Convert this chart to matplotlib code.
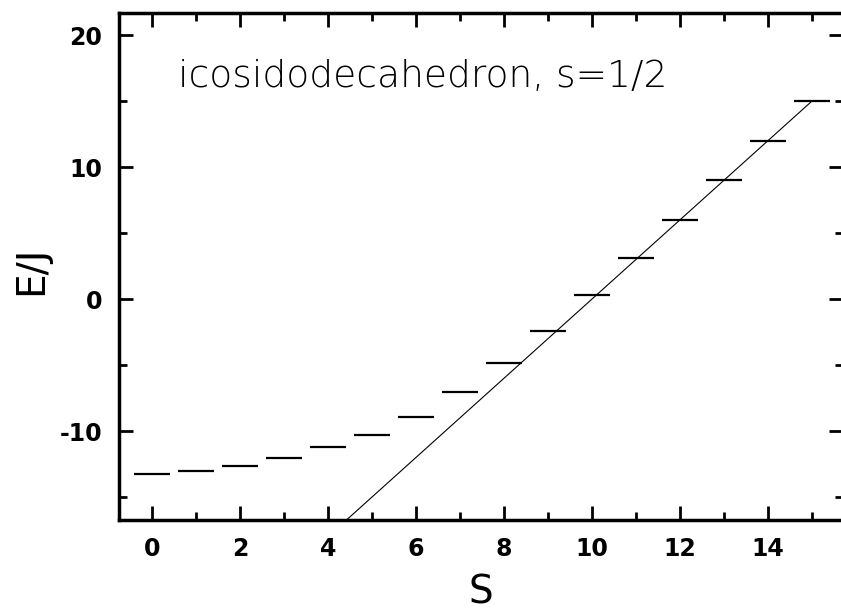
"""Energy levels of the s=1/2 icosidodecahedron vs total spin S."""

import matplotlib
matplotlib.use("Agg")
import matplotlib.pyplot as plt
import numpy as np
from matplotlib.ticker import MultipleLocator, FuncFormatter

# Lowest energy per total spin sector
spin_S = [0, 1, 2, 3, 4, 5, 6, 7, 8, 9, 10, 11, 12, 13, 14, 15]
energy = [-13.26, -13.03, -12.63, -12.07, -11.24, -10.3, -8.96, -7.05,
          -4.82, -2.42, 0.30, 3.1, 5.98, 8.99, 11.99, 15.02]

# Reference straight line E = 3 S - 30
line_S = [4, 15]
line_E = [-18, 15]

DASH_HALF = 0.42

plt.rcParams["font.family"] = ["DejaVu Sans"]

fig = plt.figure(figsize=(8.41, 6.10), dpi=100)
ax_w = 724
ax = fig.add_axes([119 / 841, 1 - 520 / 610, ax_w / 841, (520 - 13) / 610])

ax.hlines(energy, np.array(spin_S) - DASH_HALF, np.array(spin_S) + DASH_HALF,
          colors="black", linewidth=1.6)
ax.plot(line_S, line_E, color="black", linewidth=0.8)

ax.set_xlim(-0.75, -0.75 + ax_w / 44.0)
ax.set_ylim(-16.74, 21.67)

ax.xaxis.set_major_locator(MultipleLocator(2))
ax.xaxis.set_minor_locator(MultipleLocator(1))
ax.yaxis.set_major_locator(MultipleLocator(10))
ax.yaxis.set_minor_locator(MultipleLocator(5))
plain = FuncFormatter(lambda v, _: f"{v:.0f}")
ax.xaxis.set_major_formatter(plain)
ax.yaxis.set_major_formatter(plain)
ax.tick_params(which="both", direction="in", top=True, right=True, width=2)
ax.tick_params(which="major", length=10, labelsize=17, pad=12)
ax.tick_params(which="minor", length=6)
for lab in ax.get_xticklabels() + ax.get_yticklabels():
    lab.set_fontweight("bold")
for sp in ax.spines.values():
    sp.set_linewidth(2.5)

ax.set_xlabel("S", fontsize=28, labelpad=9)
ax.set_ylabel("E/J", fontsize=28)
ax.yaxis.set_label_coords(-0.095, 0.493)
ax.text(0.59, 16.1, "icosidodecahedron, s=1/2", fontsize=27,
        fontweight="light", va="baseline")

fig.savefig("out.png", dpi=100)
